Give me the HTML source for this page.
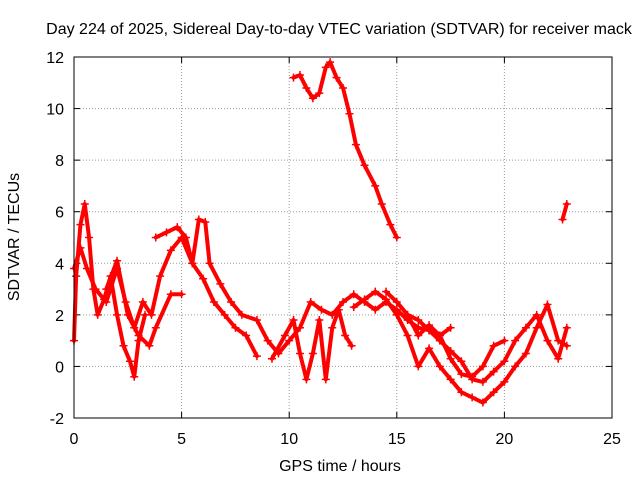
<!DOCTYPE html>
<html><head><meta charset="utf-8"><style>
body{margin:0;background:#fff}
svg text{font-family:"Liberation Sans",sans-serif;font-size:16px;fill:#000}
</style></head><body>
<svg id="chart" width="640" height="480">
<text x="339" y="34" text-anchor="middle">Day 224 of 2025, Sidereal Day-to-day VTEC variation (SDTVAR) for receiver mack</text>
<text x="340" y="471" text-anchor="middle">GPS time / hours</text>
<text transform="translate(19,237) rotate(-90)" text-anchor="middle">SDTVAR / TECUs</text>
<g id="grid"></g><g id="series"></g>
<rect x="74" y="57" width="538" height="361" fill="none" stroke="#000"/>
</svg>
<script>
const xTicks=[0,5,10,15,20,25];
const yTicks=[-2,0,2,4,6,8,10,12];
const s1=[[10.2,11.2],[10.5,11.3],[10.8,10.8],[11.1,10.4],[11.4,10.6],[11.7,11.6],[11.9,11.8],[12.2,11.2],[12.5,10.8],[12.8,9.8],[13.1,8.6],[13.5,7.8],[14.0,7.0],[14.3,6.3],[14.7,5.5],[15.0,5.0]];
const s2=[[22.7,5.7],[22.9,6.3]];
const s3=[[0,1.0],[0.1,3.5],[0.3,5.5],[0.5,6.3],[0.7,5.0],[0.9,3.0],[1.1,2.0],[1.4,2.6],[1.7,3.5],[2.0,2.0],[2.3,0.8],[2.6,0.2],[2.8,-0.4],[3.0,1.0],[3.3,2.0]];
const s4=[[0,3.8],[0.3,4.6],[0.6,3.8],[1.0,3.0],[1.5,2.5],[2.0,3.8],[2.4,2.5],[2.8,1.5],[3.2,2.5],[3.6,2.0],[4.0,3.5],[4.5,4.5],[5.0,5.0],[5.5,4.0],[6.0,3.4],[6.5,2.5],[7.0,2.0],[7.5,1.5],[8.0,1.2],[8.5,0.4]];
const s5=[[3.8,5.0],[4.3,5.2],[4.8,5.4],[5.2,5.0],[5.5,4.0],[5.8,5.7],[6.1,5.6],[6.3,4.0],[6.8,3.2],[7.3,2.5],[7.8,2.0],[8.5,1.8],[9.0,1.0],[9.5,0.5],[10.0,1.0],[10.5,1.5],[11.0,2.5],[11.5,2.2],[12.0,2.0],[12.5,2.5],[13.0,2.8],[13.5,2.5],[14.0,2.2],[14.5,2.5],[15.0,2.2],[15.5,1.8],[16.0,1.5],[16.5,1.4],[17.0,1.0],[17.5,0.6],[18.0,0.2],[18.5,-0.5],[19.0,-0.6],[19.5,-0.2],[20.0,0.2],[20.5,1.0],[21.0,1.5],[21.5,2.0],[22.0,1.0],[22.5,0.3],[22.9,1.5]];
const s6=[[9.2,0.3],[9.8,1.2],[10.2,1.8],[10.5,0.5],[10.8,-0.5],[11.1,0.5],[11.4,1.8],[11.7,-0.5],[12.0,1.5],[12.3,2.2],[12.6,1.2],[12.9,0.8]];
const s7=[[13.0,2.3],[13.5,2.6],[14.0,2.9],[14.5,2.6],[15.0,2.0],[15.5,1.2],[16.0,0.0],[16.5,0.7],[17.0,0.0],[17.5,-0.5],[18.0,-1.0],[18.5,-1.2],[19.0,-1.4],[19.5,-1.0],[20.0,-0.6],[20.5,0.0],[21.0,0.5],[21.5,1.5],[22.0,2.4],[22.5,1.0],[22.9,0.8]];
const s8=[[14.5,2.9],[15.0,2.5],[15.5,2.0],[16.0,1.2],[16.5,1.6],[17.0,1.2],[17.5,0.3],[18.0,-0.3],[18.5,-0.4],[19.0,0.0],[19.5,0.8],[20.0,1.0]];
const s9=[[15.5,2.0],[16.0,1.8],[16.5,1.4],[17.0,1.2],[17.5,1.5]];
const s10=[[1.5,3.0],[2.0,4.1],[2.5,2.0],[3.0,1.2],[3.5,0.8],[3.8,1.5],[4.5,2.8],[5.0,2.8]];
const allSeries=[s1,s2,s3,s4,s5,s6,s7,s8,s9,s10];
const X0=74,X1=612,Y0=418,Y1=57;
const xs=v=>X0+(v-0)/25*(X1-X0);
const ys=v=>Y0-(v+2)/14*(Y0-Y1);
const NS="http://www.w3.org/2000/svg";
const grid=document.getElementById('grid'),ser=document.getElementById('series');
function mk(t,a,p){const e=document.createElementNS(NS,t);for(const k in a)e.setAttribute(k,a[k]);p.appendChild(e);return e;}
xTicks.forEach(v=>{const x=xs(v);
 if(v>0&&v<25){const l=mk('line',{x1:x,x2:x,y1:Y0,y2:Y1,stroke:'#999','stroke-dasharray':'1,2'},grid);
 
 }
 mk('line',{x1:x,x2:x,y1:Y0,y2:Y0-6,stroke:'#000'},grid);mk('line',{x1:x,x2:x,y1:Y1,y2:Y1+6,stroke:'#000'},grid);
 const t=mk('text',{x:x,y:Y0+26,'text-anchor':'middle'},grid);t.textContent=v;
 
 });
yTicks.forEach(v=>{const y=ys(v);
 if(v>-2&&v<12){const l=mk('line',{x1:X0,x2:X1,y1:y,y2:y,stroke:'#999','stroke-dasharray':'1,2'},grid);
 
 }
 mk('line',{x1:X0,x2:X0+6,y1:y,y2:y,stroke:'#000'},grid);mk('line',{x1:X1,x2:X1-6,y1:y,y2:y,stroke:'#000'},grid);
 const t=mk('text',{x:X0-10,y:y+6,'text-anchor':'end'},grid);t.textContent=v;
 
 });
allSeries.forEach((s,i)=>{
 const g=mk('g',{},ser);
 
 
 mk('polyline',{points:s.map(p=>xs(p[0])+','+ys(p[1])).join(' '),fill:'none',stroke:'#f00','stroke-width':4,'stroke-linejoin':'round','stroke-linecap':'round'},g);
 s.forEach(p=>{const x=xs(p[0]),y=ys(p[1]);
  mk('path',{d:`M${x-4},${y}h8M${x},${y-4}v8`,stroke:'#f00','stroke-width':1.5},g);});
});
</script>
</body></html>
